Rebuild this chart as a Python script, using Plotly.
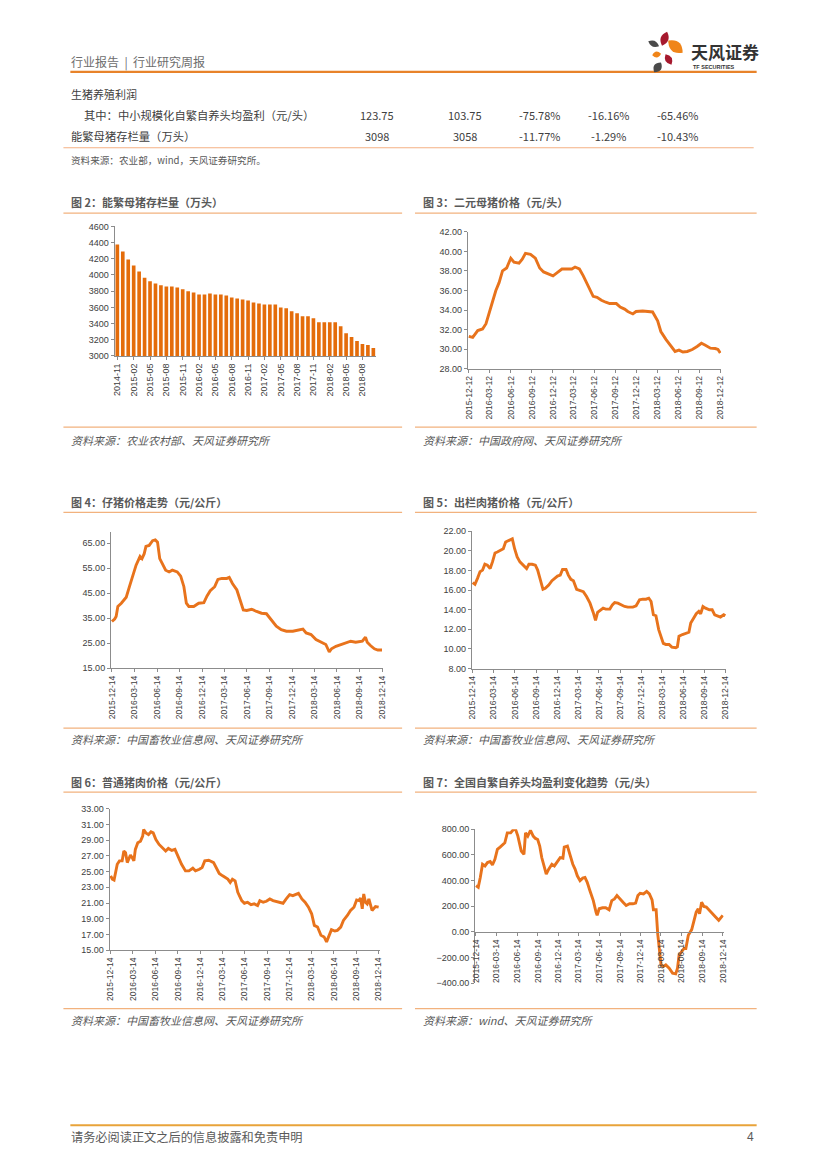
import math
import plotly.graph_objects as go

W, H = 827, 1169


def px(x):
    return x / W


def py(y):
    return 1 - y / H


# ---------------- data ----------------
sow_months = [
    "2014-11", "2014-12", "2015-01", "2015-02", "2015-03", "2015-04", "2015-05", "2015-06",
    "2015-07", "2015-08", "2015-09", "2015-10", "2015-11", "2015-12", "2016-01", "2016-02",
    "2016-03", "2016-04", "2016-05", "2016-06", "2016-07", "2016-08", "2016-09", "2016-10",
    "2016-11", "2016-12", "2017-01", "2017-02", "2017-03", "2017-04", "2017-05", "2017-06",
    "2017-07", "2017-08", "2017-09", "2017-10", "2017-11", "2017-12", "2018-01", "2018-02",
    "2018-03", "2018-04", "2018-05", "2018-06", "2018-07", "2018-08", "2018-09", "2018-10",
]
sow_stock = [
    4375, 4289, 4191, 4118, 4044, 3967, 3922, 3894, 3873, 3857, 3857, 3845,
    3824, 3800, 3783, 3759, 3759, 3771, 3759, 3759, 3747, 3722, 3710, 3698,
    3685, 3661, 3649, 3636, 3636, 3636, 3600, 3588, 3551, 3526, 3490, 3490,
    3465, 3416, 3416, 3416, 3416, 3367, 3282, 3233, 3184, 3147, 3135, 3098,
]
sow_ticks = sow_months[::3]

gilt_dates = [
    "2015-12-12", "2015-12-29", "2016-01-20", "2016-02-10", "2016-02-25", "2016-03-10",
    "2016-03-25", "2016-04-08", "2016-04-22", "2016-05-07", "2016-05-25", "2016-06-12",
    "2016-06-26", "2016-07-18", "2016-08-01", "2016-08-15", "2016-09-06", "2016-09-27",
    "2016-10-16", "2016-11-02", "2016-11-24", "2016-12-13", "2016-12-30", "2017-01-21",
    "2017-02-11", "2017-03-05", "2017-03-19", "2017-04-07", "2017-04-24", "2017-05-16",
    "2017-06-06", "2017-06-23", "2017-07-12", "2017-07-31", "2017-08-17", "2017-09-15",
    "2017-10-02", "2017-10-21", "2017-11-04", "2017-11-26", "2017-12-10", "2018-01-08",
    "2018-01-29", "2018-02-20", "2018-03-14", "2018-03-28", "2018-04-19", "2018-05-10",
    "2018-05-29", "2018-06-15", "2018-07-02", "2018-07-21", "2018-08-12", "2018-09-02",
    "2018-09-21", "2018-10-08", "2018-10-30", "2018-11-20", "2018-12-02", "2018-12-12",
]
gilt_price = [
    31.3, 31.2, 31.9, 32.06, 32.6, 33.6, 34.9, 36.0, 36.8, 38.0, 38.3, 39.3,
    38.9, 38.8, 39.2, 39.8, 39.7, 39.3, 38.3, 37.9, 37.7, 37.5, 37.8, 38.2,
    38.2, 38.2, 38.4, 38.2, 37.5, 36.5, 35.4, 35.3, 35.0, 34.8, 34.66, 34.66,
    34.3, 34.1, 33.85, 33.6, 33.85, 33.9, 33.85, 33.8, 32.9, 31.8, 31.0, 30.4,
    29.76, 29.9, 29.7, 29.76, 29.96, 30.27, 30.6, 30.4, 30.1, 30.06, 29.96, 29.6,
]
gilt_ticks = [
    "2015-12-12", "2016-03-12", "2016-06-12", "2016-09-12", "2016-12-12", "2017-03-12",
    "2017-06-12", "2017-09-12", "2017-12-12", "2018-03-12", "2018-06-12", "2018-09-12",
    "2018-12-12",
]

q_ticks = [
    "2015-12-14", "2016-03-14", "2016-06-14", "2016-09-14", "2016-12-14", "2017-03-14",
    "2017-06-14", "2017-09-14", "2017-12-14", "2018-03-14", "2018-06-14", "2018-09-14",
    "2018-12-14",
]

piglet_dates = [
    "2015-12-14", "2015-12-25", "2015-12-31", "2016-01-07", "2016-01-21", "2016-02-03",
    "2016-02-10", "2016-02-23", "2016-03-07", "2016-03-21", "2016-04-06", "2016-04-14",
    "2016-04-23", "2016-04-30", "2016-05-13", "2016-05-27", "2016-06-07", "2016-06-16",
    "2016-06-25", "2016-07-06", "2016-07-19", "2016-08-02", "2016-08-15", "2016-09-04",
    "2016-09-18", "2016-10-01", "2016-10-11", "2016-10-21", "2016-11-10", "2016-11-30",
    "2016-12-21", "2017-01-03", "2017-01-16", "2017-02-03", "2017-02-16", "2017-03-04",
    "2017-03-24", "2017-04-03", "2017-04-16", "2017-05-04", "2017-05-17", "2017-05-30",
    "2017-06-13", "2017-07-03", "2017-07-23", "2017-08-12", "2017-09-01", "2017-09-21",
    "2017-10-11", "2017-10-31", "2017-11-21", "2017-12-17", "2018-01-09", "2018-01-27",
    "2018-02-09", "2018-03-01", "2018-03-21", "2018-04-10", "2018-04-30", "2018-05-14",
    "2018-05-23", "2018-06-10", "2018-06-30", "2018-07-20", "2018-08-09", "2018-08-29",
    "2018-09-25", "2018-10-08", "2018-10-15", "2018-10-28", "2018-11-13", "2018-11-27",
    "2018-12-14",
]
piglet_price = [
    33.7, 34.7, 35.7, 39.7, 41.0, 42.3, 43.4, 47.6, 51.5, 56.2, 59.7, 58.8,
    60.8, 63.7, 64.1, 66.0, 66.3, 65.4, 58.8, 56.8, 54.2, 53.5, 54.2, 53.5,
    51.8, 47.6, 41.0, 39.7, 39.7, 41.0, 41.2, 43.9, 46.0, 47.6, 50.5, 50.9,
    50.9, 51.3, 48.9, 46.3, 42.3, 38.3, 38.1, 38.6, 37.7, 37.0, 36.8, 34.4,
    31.8, 30.4, 29.8, 29.8, 30.2, 30.7, 29.1, 28.5, 26.5, 25.4, 24.5, 21.5,
    22.8, 23.8, 24.5, 25.2, 25.8, 25.4, 25.8, 27.4, 25.4, 24.1, 22.8, 22.3,
    22.3,
]

hog_dates = [
    "2015-12-14", "2015-12-24", "2016-01-04", "2016-01-15", "2016-01-26", "2016-02-05",
    "2016-02-16", "2016-02-28", "2016-03-09", "2016-03-20", "2016-03-30", "2016-04-11",
    "2016-04-25", "2016-05-05", "2016-05-20", "2016-06-03", "2016-06-13", "2016-06-24",
    "2016-07-06", "2016-07-23", "2016-08-04", "2016-08-14", "2016-08-28", "2016-09-11",
    "2016-09-21", "2016-10-03", "2016-10-14", "2016-10-24", "2016-11-08", "2016-11-22",
    "2016-12-06", "2016-12-16", "2016-12-28", "2017-01-07", "2017-01-22", "2017-02-01",
    "2017-02-12", "2017-02-23", "2017-03-09", "2017-03-24", "2017-04-07", "2017-04-21",
    "2017-05-06", "2017-05-20", "2017-05-30", "2017-06-08", "2017-06-18", "2017-07-02",
    "2017-07-13", "2017-07-31", "2017-08-11", "2017-08-21", "2017-09-04", "2017-09-19",
    "2017-10-03", "2017-10-17", "2017-11-08", "2017-11-22", "2017-12-07", "2017-12-21",
    "2018-01-04", "2018-01-16", "2018-01-26", "2018-02-05", "2018-02-16", "2018-02-28",
    "2018-03-10", "2018-03-20", "2018-03-31", "2018-04-14", "2018-04-26", "2018-05-13",
    "2018-05-20", "2018-05-27", "2018-06-11", "2018-06-25", "2018-07-09", "2018-07-17",
    "2018-07-31", "2018-08-10", "2018-08-21", "2018-08-29", "2018-09-08", "2018-09-19",
    "2018-10-06", "2018-10-18", "2018-10-29", "2018-11-13", "2018-11-23", "2018-12-07",
    "2018-12-14",
]
hog_price = [
    16.75, 16.58, 17.19, 17.86, 18.03, 18.63, 18.53, 18.19, 18.87, 19.78, 19.88, 20.05,
    20.21, 20.89, 21.06, 21.22, 20.21, 19.37, 18.87, 18.43, 18.19, 18.63, 18.63, 18.53,
    18.03, 17.02, 16.08, 16.18, 16.51, 16.95, 17.19, 17.42, 17.52, 18.10, 18.10, 17.52,
    17.09, 16.95, 16.08, 15.94, 15.84, 15.34, 14.66, 13.72, 12.91, 13.72, 13.92, 14.16,
    14.06, 14.06, 14.49, 14.73, 14.66, 14.49, 14.33, 14.26, 14.26, 14.39, 15.00, 15.07,
    15.07, 15.17, 14.83, 13.48, 13.38, 11.97, 11.30, 10.56, 10.46, 10.46, 10.19, 10.12,
    10.22, 11.30, 11.47, 11.57, 11.70, 12.64, 13.15, 13.59, 13.82, 13.59, 14.33, 14.16,
    13.99, 13.99, 13.48, 13.38, 13.25, 13.48, 13.38,
]

pork_dates = [
    "2015-12-14", "2015-12-21", "2015-12-28", "2016-01-03", "2016-01-10", "2016-01-19",
    "2016-01-30", "2016-02-06", "2016-02-13", "2016-02-20", "2016-02-26", "2016-03-04",
    "2016-03-11", "2016-03-18", "2016-03-24", "2016-04-03", "2016-04-14", "2016-04-23",
    "2016-04-27", "2016-05-06", "2016-05-17", "2016-05-27", "2016-06-05", "2016-06-16",
    "2016-06-29", "2016-07-13", "2016-07-26", "2016-08-06", "2016-08-20", "2016-09-02",
    "2016-09-16", "2016-09-29", "2016-10-15", "2016-10-29", "2016-11-14", "2016-11-25",
    "2016-12-11", "2016-12-22", "2017-01-02", "2017-01-18", "2017-02-07", "2017-02-17",
    "2017-03-02", "2017-03-16", "2017-03-26", "2017-04-06", "2017-04-16", "2017-04-25",
    "2017-05-06", "2017-05-17", "2017-06-02", "2017-06-13", "2017-06-26", "2017-07-10",
    "2017-07-23", "2017-08-06", "2017-08-15", "2017-08-29", "2017-09-11", "2017-09-25",
    "2017-10-08", "2017-10-22", "2017-11-04", "2017-11-18", "2017-12-01", "2017-12-15",
    "2017-12-28", "2018-01-11", "2018-01-20", "2018-02-03", "2018-02-16", "2018-03-02",
    "2018-03-15", "2018-03-26", "2018-04-08", "2018-04-22", "2018-05-05", "2018-05-15",
    "2018-05-26", "2018-06-04", "2018-06-18", "2018-06-28", "2018-07-12", "2018-07-23",
    "2018-08-08", "2018-08-21", "2018-09-04", "2018-09-15", "2018-09-24", "2018-10-01",
    "2018-10-08", "2018-10-14", "2018-10-21", "2018-10-28", "2018-11-04", "2018-11-17",
    "2018-12-01", "2018-12-14",
]
pork_price = [
    24.46, 24.04, 23.92, 24.76, 25.94, 26.36, 26.36, 27.62, 27.41, 26.15, 26.57, 27.11,
    26.78, 26.36, 27.83, 28.67, 28.88, 29.51, 30.35, 29.93, 29.72, 30.06, 29.93, 29.09,
    28.46, 28.04, 27.62, 27.95, 27.70, 27.83, 26.78, 25.94, 25.09, 25.09, 25.43, 25.09,
    25.30, 25.51, 26.36, 26.44, 26.15, 25.51, 24.76, 24.46, 24.25, 24.04, 23.62, 24.04,
    23.83, 22.36, 21.31, 20.97, 21.10, 20.80, 20.89, 20.68, 21.31, 21.10, 21.22, 21.52,
    21.31, 21.22, 21.10, 20.97, 21.52, 22.07, 21.94, 22.15, 22.23, 21.52, 21.10, 20.47,
    19.63, 18.15, 17.94, 16.89, 16.68, 16.05, 16.89, 17.61, 17.44, 17.52, 17.94, 18.78,
    19.42, 20.05, 20.47, 21.39, 21.31, 21.65, 20.26, 22.15, 21.10, 20.89, 21.52, 20.05,
    20.55, 20.47,
]

profit_dates = [
    "2015-12-14", "2015-12-24", "2016-01-02", "2016-01-12", "2016-01-23", "2016-02-03",
    "2016-02-15", "2016-02-25", "2016-03-07", "2016-03-18", "2016-03-30", "2016-04-09",
    "2016-04-20", "2016-05-01", "2016-05-16", "2016-05-28", "2016-06-07", "2016-06-17",
    "2016-06-26", "2016-07-02", "2016-07-14", "2016-07-21", "2016-07-31", "2016-08-12",
    "2016-08-24", "2016-09-03", "2016-09-13", "2016-09-22", "2016-10-01", "2016-10-10",
    "2016-10-21", "2016-11-01", "2016-11-15", "2016-11-26", "2016-12-07", "2016-12-22",
    "2017-01-03", "2017-01-09", "2017-01-23", "2017-02-04", "2017-02-16", "2017-02-26",
    "2017-03-08", "2017-03-20", "2017-04-01", "2017-04-11", "2017-04-21", "2017-05-03",
    "2017-05-18", "2017-05-30", "2017-06-04", "2017-06-13", "2017-06-28", "2017-07-12",
    "2017-07-27", "2017-08-08", "2017-08-20", "2017-08-31", "2017-09-12", "2017-09-27",
    "2017-10-11", "2017-10-26", "2017-11-10", "2017-11-22", "2017-12-02", "2017-12-12",
    "2017-12-27", "2018-01-10", "2018-01-22", "2018-02-03", "2018-02-09", "2018-02-21",
    "2018-02-28", "2018-03-07", "2018-03-15", "2018-03-25", "2018-04-05", "2018-04-20",
    "2018-05-05", "2018-05-19", "2018-05-27", "2018-06-03", "2018-06-15", "2018-06-25",
    "2018-07-03", "2018-07-14", "2018-07-29", "2018-08-08", "2018-08-18", "2018-08-27",
    "2018-09-02", "2018-09-11", "2018-09-21", "2018-10-02", "2018-10-21", "2018-11-12",
    "2018-11-26", "2018-12-04", "2018-12-14",
]
profit_value = [
    360, 347, 424, 527, 514, 540, 548, 522, 566, 643, 661, 676,
    694, 771, 771, 797, 797, 746, 669, 630, 604, 771, 746, 790,
    746, 728, 720, 669, 579, 514, 450, 489, 527, 514, 540, 579,
    574, 661, 669, 592, 527, 489, 437, 399, 419, 424, 386, 321,
    244, 154, 129, 180, 188, 188, 172, 244, 257, 283, 257, 231,
    206, 219, 219, 224, 283, 301, 296, 316, 296, 249, 172, 172,
    -13, -141, -257, -270, -257, -283, -321, -327, -283, -180, -154, -129,
    -129, -26, 18, 77, 154, 180, 141, 231, 198, 193, 154, 116,
    90, 111, 129,
]

table_rows = ["其中：中小规模化自繁自养头均盈利（元/头）", "能繁母猪存栏量（万头）"]
table_vals = [
    ["123.75", "103.75", "-75.78%", "-16.16%", "-65.46%"],
    ["3098", "3058", "-11.77%", "-1.29%", "-10.43%"],
]

# ---------------- style ----------------
BAR = "#E46C0A"
LINE = "#E8731C"
AXIS = "#8c8c8c"
TXT = "#404040"
GRAY = "#595959"
SEP = "#F2B27E"
CJK = "Noto Sans CJK SC"
NUM = "Liberation Sans, Arial"

fig = go.Figure()

fig.add_trace(go.Bar(x=sow_months, y=sow_stock, marker=dict(color=BAR, line=dict(width=0)),
                     xaxis="x", yaxis="y", hoverinfo="x+y"))
series = [
    (gilt_dates, gilt_price, "x2", "y2"),
    (piglet_dates, piglet_price, "x3", "y3"),
    (hog_dates, hog_price, "x4", "y4"),
    (pork_dates, pork_price, "x5", "y5"),
    (profit_dates, profit_value, "x6", "y6"),
]
for d, v, xa, ya in series:
    fig.add_trace(go.Scatter(x=d, y=v, mode="lines", line=dict(color=LINE, width=2.9),
                             xaxis=xa, yaxis=ya, hoverinfo="x+y"))


def ax_common(size=9):
    return dict(showline=True, linecolor=AXIS, linewidth=1, ticks="outside", ticklen=3,
                tickcolor=AXIS, showgrid=False, zeroline=False,
                tickfont=dict(family=NUM, size=size, color=TXT))


def date_x(x0, x1, r0, r1, ticks, anchor, **kw):
    d = ax_common(8.5)
    d.update(type="date", domain=[px(x0), px(x1)], range=[r0, r1], tickvals=ticks,
             ticktext=ticks, tickangle=-90, anchor=anchor, fixedrange=True)
    d.update(kw)
    return d


def num_y(y_bottom, y_top, rng, tick0, dtick, fmt, anchor):
    d = ax_common(9)
    d.update(domain=[py(y_bottom), py(y_top)], range=rng, tick0=tick0, dtick=dtick,
             tickformat=fmt, anchor=anchor, fixedrange=True)
    return d


# bar chart axes
xa1 = ax_common(9)
xa1.update(type="category", domain=[px(111.7), px(375.7)], tickvals=sow_ticks,
           ticktext=sow_ticks, tickangle=-90, anchor="y", range=[-0.5, len(sow_months) - 0.5])
ya1 = num_y(354, 223.3, [3000, 4600], 3000, 200, "d", "x")

layout_axes = dict(
    xaxis=xa1, yaxis=ya1,
    xaxis2=date_x(468.4, 724.2, "2015-12-08", "2018-12-16", gilt_ticks, "y2"),
    yaxis2=num_y(366.8, 228.8, [28, 42], 28, 2, ".2f", "x2"),
    xaxis3=date_x(108.0, 382.7, "2015-12-10", "2018-12-18", q_ticks, "y3"),
    yaxis3=num_y(669, 531.7, [15, 69.4], 15, 10, ".2f", "x3"),
    xaxis4=date_x(472.3, 729.3, "2015-12-10", "2018-12-18", q_ticks, "y4"),
    yaxis4=num_y(669.3, 530.7, [8, 22], 8, 2, ".2f", "x4"),
    xaxis5=date_x(106.7, 379.3, "2015-12-10", "2018-12-18", q_ticks, "y5"),
    yaxis5=num_y(953.3, 810.7, [15, 33], 15, 2, ".2f", "x5"),
    xaxis6=date_x(475.7, 726.7, "2015-12-10", "2018-12-18", q_ticks, "free",
                  position=py(935)),
    yaxis6=num_y(986.7, 831.3, [-400, 800], -400, 200, ".2f", "x6"),
)

annotations = []


def txt(x, y, s, size=11, color=GRAY, family=CJK, xanchor="left"):
    annotations.append(dict(x=px(x), y=py(y), xref="paper", yref="paper", text=s,
                            showarrow=False, xanchor=xanchor, yanchor="middle",
                            borderpad=0,
                            font=dict(family=family, size=size, color=color)))


shapes = []


def hline(x0, x1, y, color=SEP, width=1.2):
    shapes.append(dict(type="line", xref="paper", yref="paper", x0=px(x0), x1=px(x1),
                       y0=py(y), y1=py(y), line=dict(color=color, width=width)))


def leaf(cx, cy, length, width, ang, color):
    a = math.radians(ang)
    ux, uy = math.cos(a), -math.sin(a)
    vx, vy = -uy, ux
    p1 = (cx - ux * length / 2, cy - uy * length / 2)
    p2 = (cx + ux * length / 2, cy + uy * length / 2)
    c1 = (cx + vx * width, cy + vy * width)
    c2 = (cx - vx * width, cy - vy * width)
    f = lambda p: f"{px(p[0]):.5f},{py(p[1]):.5f}"
    path = f"M {f(p1)} Q {f(c1)} {f(p2)} Q {f(c2)} {f(p1)} Z"
    shapes.append(dict(type="path", xref="paper", yref="paper", path=path,
                       fillcolor=color, line=dict(width=0)))


# header
txt(67, 57, "行业报告 &nbsp;|&nbsp; 行业研究周报", size=12, color="#6d6d6d")
hline(67, 760, 67.5, color="#E8832A", width=2.2)
leaf(667, 34, 15, 8, 70, "#A6192E")
leaf(678, 42, 19, 11, -40, "#F08519")
leaf(656, 39, 12, 6, -25, "#4A4A4A")
leaf(659, 50, 9, 6, 10, "#F08519")
leaf(671, 55, 12, 7, -60, "#A6192E")
leaf(660, 63, 12, 8, 55, "#4A4A4A")
txt(693, 47, "<b>天风证券</b>", size=17, color="#333333")
txt(695, 62.5, "<b>TF SECURITIES</b>", size=5.5, color="#333333", family=NUM)

# table
txt(67, 90, "生猪养殖利润", size=11, color=TXT)
row_y = [111, 132.5]
col_x = [377, 465, 541, 610, 680]
txt(80, row_y[0], table_rows[0], size=11.3, color=TXT)
txt(67, row_y[1], table_rows[1], size=11.3, color=TXT)
for r, vals in enumerate(table_vals):
    for c, v in enumerate(vals):
        txt(col_x[c], row_y[r], v, size=11, color=TXT, family="Noto Sans CJK SC", xanchor="center")
hline(60, 757, 144, color="#F4B183", width=1.2)
txt(67, 156, "资料来源：农业部，wind，天风证券研究所。", size=9.6, color=GRAY)

# panel titles / sources
panels = [
    (67, 60, 402, 199, 210, 425.7, 439, "图 2：能繁母猪存栏量（万头）", "资料来源：农业农村部、天风证券研究所"),
    (422, 415, 760, 199, 210, 425.7, 439, "图 3：二元母猪价格（元/头）", "资料来源：中国政府网、天风证券研究所"),
    (67, 60, 402, 501.5, 511.7, 729.3, 740.5, "图 4：仔猪价格走势（元/公斤）", "资料来源：中国畜牧业信息网、天风证券研究所"),
    (422, 415, 760, 501.5, 511.7, 729.3, 740.5, "图 5：出栏肉猪价格（元/公斤）", "资料来源：中国畜牧业信息网、天风证券研究所"),
    (67, 60, 402, 784, 794, 1012.3, 1024, "图 6：普通猪肉价格（元/公斤）", "资料来源：中国畜牧业信息网、天风证券研究所"),
    (422, 415, 760, 784, 794, 1012.3, 1024, "图 7：全国自繁自养头均盈利变化趋势（元/头）", "资料来源：wind、天风证券研究所"),
]
for tx, l0, l1, ty, ly, sy, sty, title, src in panels:
    txt(tx, ty, f"<b>{title}</b>", size=11, color=GRAY)
    hline(l0, l1, ly)
    hline(l0, l1, sy)
    txt(tx, sty, f"<i>{src}</i>", size=11, color=GRAY)

# footer
hline(67, 760, 1130, color="#E8A33A", width=2)
txt(67, 1142, "请务必阅读正文之后的信息披露和免责申明", size=12.2, color=GRAY)
txt(758, 1142, "4", size=12, color=GRAY, family=NUM, xanchor="right")

fig.update_layout(
    width=W, height=H, margin=dict(l=0, r=0, t=0, b=0), autosize=False,
    paper_bgcolor="white", plot_bgcolor="white", showlegend=False,
    bargap=0.33, annotations=annotations, shapes=shapes,
    font=dict(family=CJK, color=TXT),
    **layout_axes,
)

fig.write_html(
    "out.html",
    config={"displayModeBar": False},
    post_script="document.body.style.margin='0';document.body.style.overflow='hidden';",
)
